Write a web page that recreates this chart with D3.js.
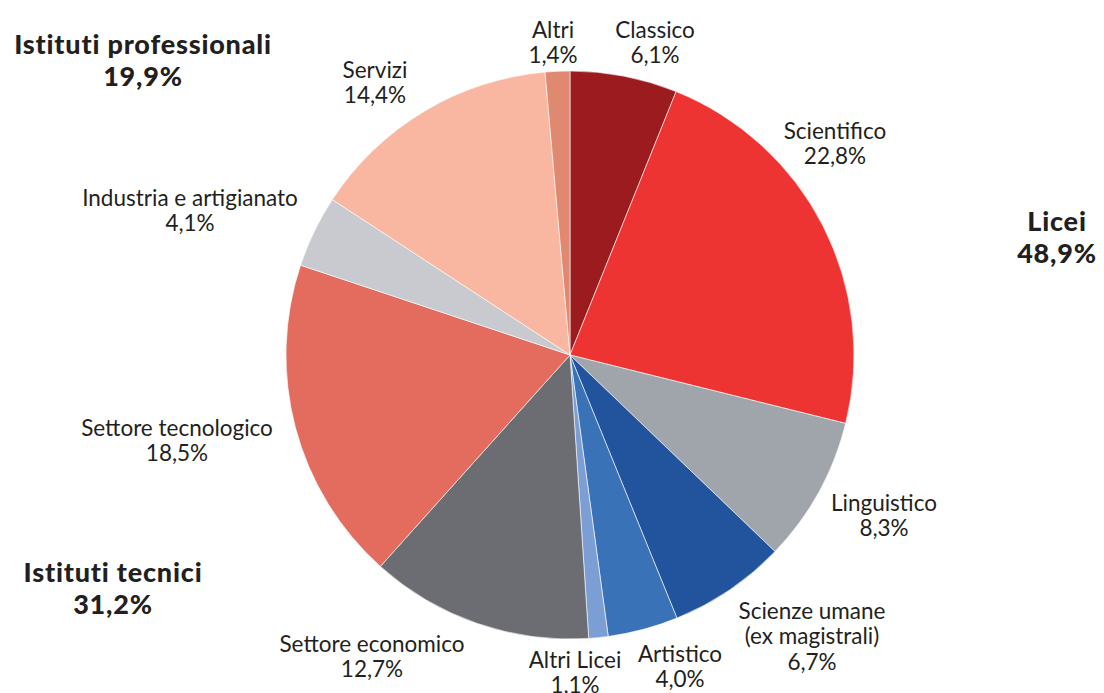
<!DOCTYPE html>
<html><head><meta charset="utf-8">
<script src="https://cdn.jsdelivr.net/npm/d3@7"></script>
<style>
html,body{margin:0;padding:0;background:#fff;}
svg{display:block;}
text{font-family:"Lato","Open Sans",sans-serif;fill:#231f20;}
</style></head>
<body><svg id="c" width="1104" height="693"></svg>
<script>
const categories = ["Classico","Scientifico","Linguistico","Scienze umane (ex magistrali)","Artistico","Altri Licei","Settore economico","Settore tecnologico","Industria e artigianato","Servizi","Altri"];
const values = [6.1,22.8,8.3,6.7,4.0,1.1,12.7,18.5,4.1,14.4,1.4];
const colors = ["#9b1b1f","#ee3432","#a0a4ab","#21549d","#3a72b8","#7b9fd5","#6c6d72","#e36c5f","#c8cacf","#f9b6a1","#e08870"];
const labelLines = [["Classico","6,1%"],["Scientifico","22,8%"],["Linguistico","8,3%"],["Scienze umane","(ex magistrali)","6,7%"],["Artistico","4,0%"],["Altri Licei","1,1%"],["Settore economico","12,7%"],["Settore tecnologico","18,5%"],["Industria e artigianato","4,1%"],["Servizi","14,4%"],["Altri","1,4%"]];
const labelPos = [[655,30],[835,131],[884,503],[812,611],[680,654],[575,660],[372,644],[177,428],[190,198],[375,70],[553,30]];
const groups = [["Licei","48,9%"],["Istituti tecnici","31,2%"],["Istituti professionali","19,9%"]];
const groupPos = [[1057,222],[113,573],[143,45]];

const svg = d3.select("#c");
const cx = 570, cy = 355, R = 284;
const pie = d3.pie().sort(null).value(d=>d)(values);
const arc = d3.arc().innerRadius(0).outerRadius(R);
const g = svg.append("g").attr("transform",`translate(${cx},${cy})`);
g.selectAll("path").data(pie).join("path")
  .attr("d",arc).attr("fill",(d,i)=>colors[i])
  .attr("stroke","#fff").attr("stroke-width",0.6);

labelLines.forEach((lines,i)=>{
  const t = svg.append("text").attr("text-anchor","middle").attr("font-size",22.5);
  lines.forEach((l,j)=>{
    t.append("tspan").attr("x",labelPos[i][0]).attr("y",labelPos[i][1]+j*25.5).attr("dy","0.35em").text(l);
  });
});
groups.forEach((lines,i)=>{
  const t = svg.append("text").attr("text-anchor","middle").attr("font-size",27).attr("font-weight",900).attr("letter-spacing",0.8);
  lines.forEach((l,j)=>{
    t.append("tspan").attr("x",groupPos[i][0]).attr("y",groupPos[i][1]+j*31.5).attr("dy","0.35em").text(l);
  });
});
</script></body></html>
